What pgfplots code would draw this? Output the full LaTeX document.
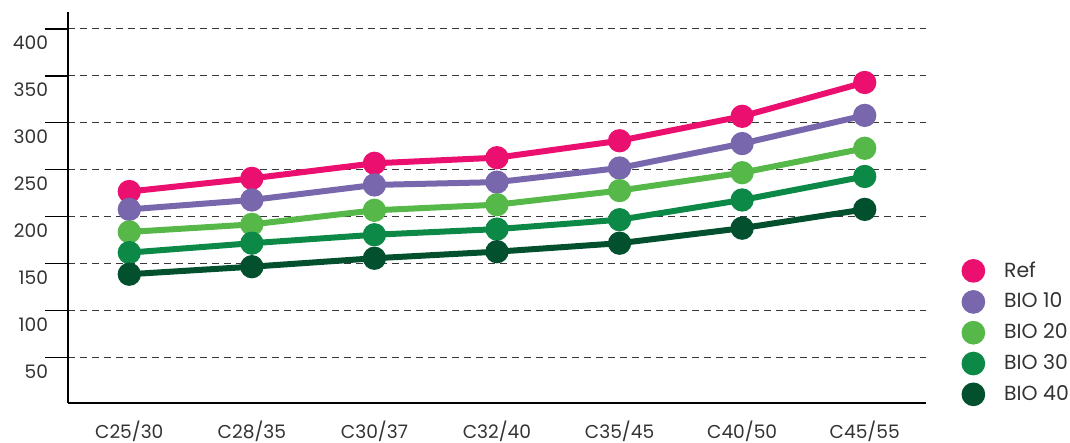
\documentclass[border=0pt]{standalone}
\usepackage{pgfplots}
\pgfplotsset{compat=1.18}
\usepackage{fontspec}
\setmainfont{Poppins}
\definecolor{cref}{HTML}{EB0F6F}
\definecolor{cb10}{HTML}{7967AD}
\definecolor{cb20}{HTML}{55B848}
\definecolor{cb30}{HTML}{0D8947}
\definecolor{cb40}{HTML}{02502D}
\definecolor{txt}{HTML}{333333}
\begin{document}
\begin{tikzpicture}
\begin{axis}[
  name=ax,
  scale only axis, width=429pt, height=195.5pt,
  xmin=-0.5, xmax=6.5, ymin=2, ymax=418,
  axis lines*=left,
  axis line style={black, line width=0.6pt},
  xtick={0,1,2,3,4,5,6},
  xticklabels={C25/30,C28/35,C30/37,C32/40,C35/45,C40/50,C45/55},
  x tick style={draw=none},
  ytick={50,100,150,200,250,300,350,400},
  tick align=outside,
  major tick length=11.5pt,
  y tick style={black, line width=0.6pt},
  ymajorgrids,
  major grid style={dash pattern=on 3.5pt off 2.5pt, line width=0.5pt, color=black!78},
  tick label style={font=\fontsize{9.3}{11}\selectfont, text=txt},
  /pgf/number format/assume math mode=true,
  yticklabel style={yshift=-7pt, xshift=5pt},
  xticklabel style={inner sep=0pt, yshift=2.6pt},
  legend style={draw=none, fill=none, inner sep=0pt, row sep=2.4pt,
    font=\fontsize{10.2}{12}\selectfont, text=txt,
    at={(1.041,0.373)}, anchor=north west,
    /tikz/every odd column/.append style={column sep=7.5pt}},
  legend cell align=left,
  legend image code/.code={\fill[#1] (0pt,0pt) circle (4.4pt);},
]
\addplot[cref, line width=3pt, mark=*, mark size=4.3pt, mark options={solid}] coordinates {(0,227) (1,241) (2,257) (3,263) (4,281) (5,307) (6,343)};
\addlegendentry{Ref}
\addplot[cb10, line width=3pt, mark=*, mark size=4.3pt, mark options={solid}] coordinates {(0,208) (1,218) (2,234) (3,237) (4,252) (5,278) (6,308)};
\addlegendentry{BIO 10}
\addplot[cb20, line width=3pt, mark=*, mark size=4.3pt, mark options={solid}] coordinates {(0,184) (1,192) (2,207) (3,213) (4,228) (5,247) (6,273)};
\addlegendentry{BIO 20}
\addplot[cb30, line width=3pt, mark=*, mark size=4.3pt, mark options={solid}] coordinates {(0,162) (1,172) (2,181) (3,187) (4,197) (5,218) (6,243)};
\addlegendentry{BIO 30}
\addplot[cb40, line width=3pt, mark=*, mark size=4.3pt, mark options={solid}] coordinates {(0,139) (1,147) (2,156) (3,163) (4,172) (5,188) (6,208)};
\addlegendentry{BIO 40}
\end{axis}
\pgfresetboundingbox
\path ([shift={(-34pt,-20pt)}]ax.south west) rectangle ([shift={(72pt,6pt)}]ax.north east);
\end{tikzpicture}
\end{document}
